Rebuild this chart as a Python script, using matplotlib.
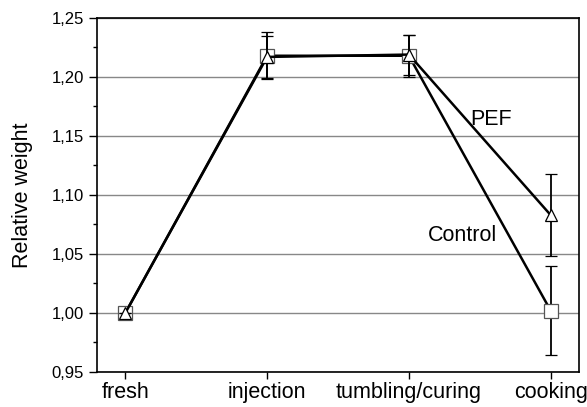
import numpy as np
import matplotlib.pyplot as plt
from matplotlib.ticker import MultipleLocator, FuncFormatter

plt.rcParams['font.family'] = ['Liberation Sans', 'DejaVu Sans']

# processing stages and relative weights (mean +/- sd)
stages = ['fresh', 'injection', 'tumbling/curing', 'cooking']
control_mean = [1.000, 1.218, 1.218, 1.002]
control_err = [0.0, 0.020, 0.018, 0.038]
pef_mean = [1.000, 1.217, 1.219, 1.083]
pef_err = [0.0, 0.018, 0.017, 0.035]

x = np.arange(len(stages))

fig = plt.figure(figsize=(5.87, 4.07), dpi=100)
ax = fig.add_axes([0.1652, 0.086, 0.8212, 0.8698])

# Control: open squares
ax.errorbar(x, control_mean, yerr=control_err, color='black', lw=1.8,
            elinewidth=1.3, capsize=4, capthick=1.3, zorder=3,
            marker='s', ms=10, mfc='white', mec='#555555', mew=0.9)
# PEF: open triangles
ax.errorbar(x, pef_mean, yerr=pef_err, color='black', lw=1.8,
            elinewidth=1.3, capsize=4, capthick=1.3, zorder=4,
            marker='^', ms=9, mfc='white', mec='black', mew=0.9)

ax.text(2.58, 1.164, 'PEF', fontsize=15.5, ha='center', va='center')
ax.text(2.38, 1.066, 'Control', fontsize=15.5, ha='center', va='center')

ax.set_xlim(-0.2, 3.2)
ax.set_ylim(0.95, 1.25)
ax.set_xticks(x)
ax.set_xticklabels(stages, fontsize=15.5)
ax.yaxis.set_major_locator(MultipleLocator(0.05))
ax.yaxis.set_minor_locator(MultipleLocator(0.025))
ax.yaxis.set_major_formatter(FuncFormatter(lambda v, p: f'{v:.2f}'.replace('.', ',')))
ax.tick_params(axis='y', labelsize=12, length=6, width=1, direction='out')
ax.tick_params(axis='y', which='minor', length=3, width=1)
ax.tick_params(axis='x', length=5, width=1, direction='out', pad=2)
ax.set_ylabel('Relative weight', fontsize=15.5, labelpad=13)

ax.yaxis.grid(True, color='#888888', lw=1)
ax.set_axisbelow(True)
for s in ax.spines.values():
    s.set_linewidth(1.2)

fig.savefig('out.png', dpi=100)
